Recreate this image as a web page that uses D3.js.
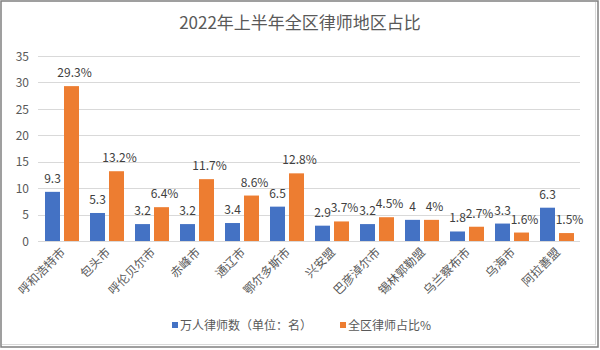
<!DOCTYPE html>
<html><head><meta charset="utf-8">
<script src="https://cdn.jsdelivr.net/npm/d3@7"></script>
<style>body{margin:0;background:#fff}svg{display:block}text{font-family:"Noto Sans CJK SC","Noto Sans",sans-serif}</style>
</head><body><svg id="c" width="600" height="350"></svg>
<script>
const categories = ["呼和浩特市","包头市","呼伦贝尔市","赤峰市","通辽市","鄂尔多斯市","兴安盟","巴彦淖尔市","锡林郭勒盟","乌兰察布市","乌海市","阿拉善盟"];
const lawyersPer10k = [9.3,5.3,3.2,3.2,3.4,6.5,2.9,3.2,4,1.8,3.3,6.3];
const sharePct = [29.3,13.2,6.4,11.7,8.6,12.8,3.7,4.5,4,2.7,1.6,1.5];
const yTicks = [0,5,10,15,20,25,30,35];
const seriesNames = ["万人律师数（单位：名）","全区律师占比%"];
const colors = ["#4472C4","#ED7D31"];
const title = "2022年上半年全区律师地区占比";

const svg = d3.select("#c");
svg.append("rect").attr("x",1).attr("y",1).attr("width",597).attr("height",346).attr("fill","#fff").attr("stroke","#808080").attr("stroke-width",1.5);
svg.append("line").attr("x1",595.5).attr("x2",595.5).attr("y1",2).attr("y2",345).attr("stroke","#d9d9d9");
svg.append("line").attr("x1",2).attr("x2",595).attr("y1",344.5).attr("y2",344.5).attr("stroke","#d9d9d9");

svg.append("text").attr("x",300).attr("y",29).attr("text-anchor","middle").attr("font-size",17).attr("fill","#595959").text(title);

const x = d3.scaleBand().domain(categories).range([39.5,579.5]);
const y = d3.scaleLinear().domain([0,35]).range([241,56]);

const grid = svg.append("g");
yTicks.forEach(t=>{
  grid.append("line").attr("x1",38).attr("x2",580).attr("y1",Math.round(y(t))+0.5).attr("y2",Math.round(y(t))+0.5).attr("stroke","#d9d9d9");
});
const yAxis = d3.axisLeft(y).tickValues(yTicks).tickSize(0).tickPadding(0);
const ya = svg.append("g").attr("transform","translate(29,0)").call(yAxis);
ya.select(".domain").remove();
ya.selectAll("text").attr("font-size",12).attr("fill","#595959").attr("dy","0.35em");

const bw = 15;
const g = svg.append("g");
categories.forEach((c,i)=>{
  const cx = x(c)+x.bandwidth()/2;
  const vals = [lawyersPer10k[i], sharePct[i]];
  vals.forEach((v,j)=>{
    const bx = j===0 ? cx-17 : cx+2;
    g.append("rect").attr("x",bx).attr("y",y(v)).attr("width",bw).attr("height",y(0)-y(v)).attr("fill",colors[j]);
    g.append("text").attr("x",bx+bw/2 + (j===1?3:0)).attr("y",y(v)-9).attr("text-anchor","middle")
      .attr("font-size",12).attr("fill","#404040").text(j===1 ? v+"%" : v);
  });
});

const xAxis = d3.axisBottom(x).tickSize(0).tickPadding(0);
const xa = svg.append("g").attr("transform","translate(0,241)").call(xAxis);
xa.select(".domain").remove();
xa.selectAll("text").attr("font-size",12).attr("fill","#595959")
  .attr("text-anchor","end").attr("dy",null).attr("y",0)
  .attr("transform","translate(4,12) rotate(-45)");

const leg = svg.append("g");
const legX = [172, 340];
seriesNames.forEach((n,j)=>{
  leg.append("rect").attr("x",legX[j]).attr("y",322).attr("width",6).attr("height",6).attr("fill",colors[j]);
  leg.append("text").attr("x",legX[j]+8).attr("y",329.5).attr("font-size",12).attr("fill","#595959").text(n);
});
</script></body></html>
